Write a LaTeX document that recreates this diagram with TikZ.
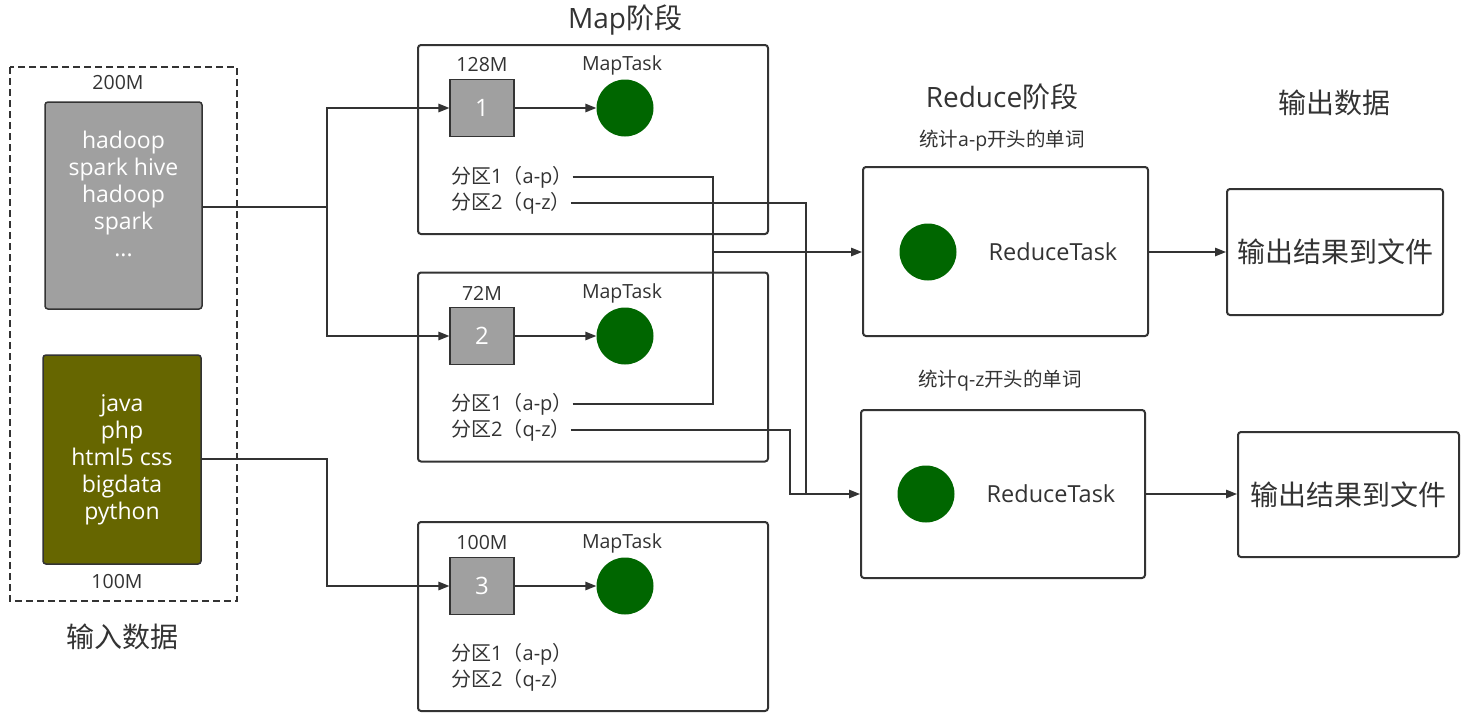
\documentclass[tikz,border=0pt]{standalone}
\usepackage{fontspec}
\setmainfont{Open Sans}
\newfontfamily\cjk{Noto Sans CJK SC}
\usetikzlibrary{arrows.meta}
\definecolor{ln}{HTML}{333333}
\definecolor{grayfill}{HTML}{A0A0A0}
\definecolor{olive}{HTML}{666600}
\definecolor{gr}{HTML}{006600}
\tikzset{
  box/.style={draw=ln, line width=2pt, rounded corners=3pt, fill=white, inner sep=0pt},
  src/.style={draw=ln, line width=1.5pt, rounded corners=3pt, inner sep=0pt},
  srctext/.style={inner sep=0pt, text=white, font=\fontsize{23}{27}\selectfont, align=center},
  sq/.style={draw=ln, line width=1.2pt, fill=grayfill, minimum width=64pt, minimum height=57pt, inner sep=0pt, text=white, font=\fontsize{24}{28}\selectfont},
  task/.style={circle, fill=gr, minimum size=57pt, inner sep=0pt},
  lbl/.style={inner sep=0pt, text=ln, font=\fontsize{19.5}{23}\selectfont},
  part/.style={inner sep=0pt, text=ln, font=\fontsize{20}{24}\selectfont},
  big/.style={inner sep=0pt, text=ln, font=\fontsize{28}{32}\selectfont},
  conn/.style={draw=ln, line width=1.4pt},
  arr/.style={conn, -{Triangle[length=11pt,width=8.5pt]}},
}
\newcommand{\pA}{{\cjk 分区}1{\cjk （}a-p{\cjk ）}}
\newcommand{\pB}{{\cjk 分区}2{\cjk （}q-z{\cjk ）}}
\begin{document}
\begin{tikzpicture}[x=1pt,y=-1pt]
\useasboundingbox (0,0) rectangle (1470,720);
% input
\draw[ln, line width=1.2pt, dash pattern=on 7pt off 4pt] (10,67) rectangle (237,601);
\node[lbl] (s200) at (118,83) {200M};
\node[src, fill=grayfill, minimum width=157pt, minimum height=207pt] (src1) at (123.5,205.5) {};
\node[srctext] (src1t) at (123.5,194) {hadoop\\spark hive\\hadoop\\spark\\...};
\node[src, fill=olive, minimum width=158pt, minimum height=209pt] (src2) at (122,459.5) {};
\node[srctext] (src2t) at (122,460) {java\\php\\html5 css\\bigdata\\python};
\node[lbl] (s100) at (117,582) {100M};
\node[big, font=\fontsize{28}{32}\cjk] (inlbl) at (122,637) {输入数据};
% map stage
\node[big] (maplbl) at (625,20) {Map{\cjk 阶段}};
\foreach \i/\cy in {1/139.5, 2/367, 3/616.5}{
  \node[box, minimum width=350pt, minimum height=189pt] (m\i) at (593,\cy) {};
}
\foreach \i/\y/\sz in {1/108/128M, 2/336/72M, 3/586/100M}{
  \node[sq] (b\i) at (482,\y) {\i};
  \node[task] (t\i) at (625,\y) {};
  \node[lbl] (sz\i) at (482,\y-43) {\sz};
  \node[lbl] (mt\i) at (622,\y-43) {MapTask};
  \draw[arr] (b\i) -- (t\i);
}
\node[part, anchor=west] (p11) at (451,177) {\pA};
\node[part, anchor=west] (p12) at (451,203) {\pB};
\node[part, anchor=west] (p21) at (451,404) {\pA};
\node[part, anchor=west] (p22) at (451,430) {\pB};
\node[part, anchor=west] (p31) at (451,654) {\pA};
\node[part, anchor=west] (p32) at (451,680) {\pB};
% reduce stage
\node[big] (redlbl) at (1002,97) {Reduce{\cjk 阶段}};
\node[part, font=\fontsize{19.5}{23}\selectfont] (st1) at (1002,141) {{\cjk 统计}a-p{\cjk 开头的单词}};
\node[part, font=\fontsize{19.5}{23}\selectfont] (st2) at (1000,381) {{\cjk 统计}q-z{\cjk 开头的单词}};
\node[box, minimum width=285pt, minimum height=169pt] (r1) at (1005.5,251.5) {};
\node[box, minimum width=284pt, minimum height=168pt] (r2) at (1003,494) {};
\node[task] (rt1) at (928,252) {};
\node[task] (rt2) at (926,494) {};
\node[lbl, font=\fontsize{23.5}{28}\selectfont] (rl1) at (1053,252) {ReduceTask};
\node[lbl, font=\fontsize{23.5}{28}\selectfont] (rl2) at (1051,494) {ReduceTask};
% output
\node[big, font=\fontsize{28}{32}\cjk] (outlbl) at (1334,103) {输出数据};
\node[box, minimum width=216pt, minimum height=126pt, big, font=\fontsize{28}{32}\cjk] (o1) at (1335,252) {输出结果到文件};
\node[box, minimum width=221pt, minimum height=125pt, big, font=\fontsize{28}{32}\cjk] (o2) at (1348.5,494.5) {输出结果到文件};
\draw[arr] (r1.east |- 0,252) -- (o1.west |- 0,252);
\draw[arr] (r2.east |- 0,494) -- (o2.west |- 0,494);
% input connectors
\coordinate (j1) at (327,207);
\draw[conn] (src1.east |- j1) -- (j1);
\draw[arr] (j1) |- (b1.west);
\draw[arr] (j1) |- (b2.west);
\draw[arr] (src2.east |- 0,459) -| (327,586) -- (b3.west);
% shuffle connectors
\draw[arr] (p11.east) -| (713,252) -- (r1.west |- 0,252);
\draw[conn] (p21.east) -| (713,252);
\draw[arr] (p12.east) -| (806,494) -- (r2.west |- 0,494);
\draw[conn] (p22.east) -| (790,494) -- (806,494);
\end{tikzpicture}
\end{document}
